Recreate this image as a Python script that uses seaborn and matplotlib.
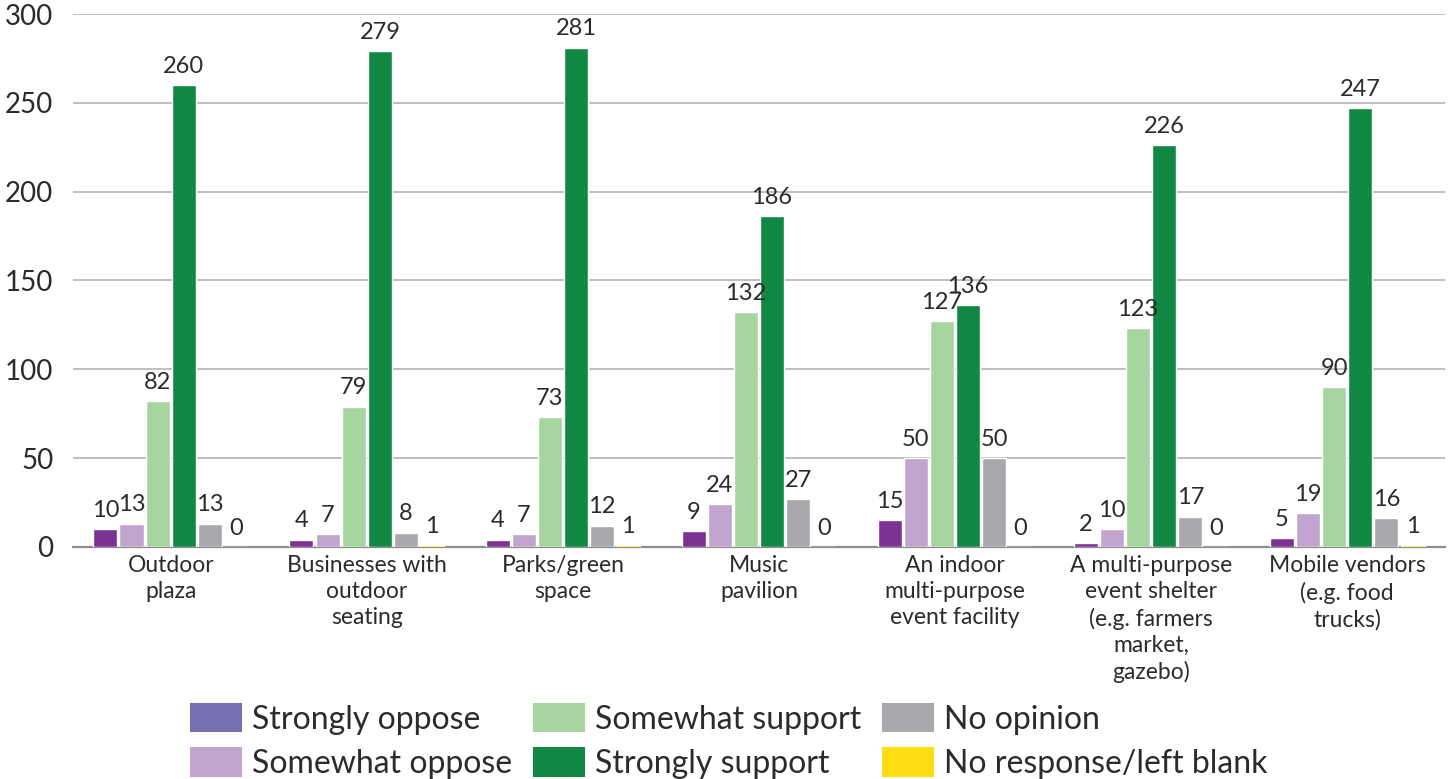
import matplotlib
matplotlib.use("Agg")
import matplotlib.pyplot as plt
from matplotlib.patches import Patch
import seaborn as sns
import pandas as pd

categories = [
    "Outdoor\nplaza",
    "Businesses with\noutdoor\nseating",
    "Parks/green\nspace",
    "Music\npavilion",
    "An indoor\nmulti-purpose\nevent facility",
    "A multi-purpose\nevent shelter\n(e.g. farmers\nmarket,\ngazebo)",
    "Mobile vendors\n(e.g. food\ntrucks)",
]
responses = [
    "Strongly oppose",
    "Somewhat oppose",
    "Somewhat support",
    "Strongly support",
    "No opinion",
    "No response/left blank",
]
strongly_oppose = [10, 4, 4, 9, 15, 2, 5]
somewhat_oppose = [13, 7, 7, 24, 50, 10, 19]
somewhat_support = [82, 79, 73, 132, 127, 123, 90]
strongly_support = [260, 279, 281, 186, 136, 226, 247]
no_opinion = [13, 8, 12, 27, 50, 17, 16]
no_response = [0, 1, 1, 0, 0, 0, 1]

series = [strongly_oppose, somewhat_oppose, somewhat_support,
          strongly_support, no_opinion, no_response]

bar_colors = ["#7B3294", "#C2A5CF", "#A6D5A0", "#108843", "#A7A9AC", "#FFDD15"]
legend_colors = ["#7670B1", "#C2A5CF", "#A6D5A0", "#108843", "#A7A9AC", "#FFDD15"]

rows = []
for resp, vals in zip(responses, series):
    for cat, v in zip(categories, vals):
        rows.append({"category": cat, "response": resp, "count": v})
df = pd.DataFrame(rows)

sns.set_theme(style="white")
plt.rcParams["font.family"] = ["Lato", "DejaVu Sans"]
text_color = "#2B2B2B"

fig = plt.figure(figsize=(14.54, 7.79), dpi=100)
ax = fig.add_axes([0.050, 0.298, 0.944, 0.684])

sns.barplot(
    data=df, x="category", y="count", hue="response",
    order=categories, hue_order=responses,
    palette=bar_colors, width=0.8, gap=0.08,
    saturation=1, legend=False, ax=ax,
)
for container in ax.containers:
    for bar in container:
        bar.set_zorder(3)
    ax.bar_label(container, fmt="%d", padding=6, fontsize=17, color=text_color)

ax.set_ylim(0, 300)
ax.set_yticks([0, 50, 100, 150, 200, 250, 300])
ax.set_xlim(-0.5, len(categories) - 0.5)
ax.yaxis.grid(True, color="#BFBFBF", linewidth=1.4)
ax.set_axisbelow(True)
for side in ["top", "right", "left"]:
    ax.spines[side].set_visible(False)
ax.spines["bottom"].set_color("#8C8C8C")
ax.spines["bottom"].set_linewidth(1.6)
ax.spines["bottom"].set_zorder(2)
ax.tick_params(axis="y", length=0, pad=14, labelsize=20, labelcolor=text_color)
ax.tick_params(axis="x", length=0, pad=6, labelsize=16.5, labelcolor=text_color)
for lbl in ax.get_xticklabels():
    lbl.set_linespacing(1.3)
ax.set_xlabel("")
ax.set_ylabel("")

handles = [Patch(facecolor=c, edgecolor="none") for c in legend_colors]
fig.legend(
    handles, responses, ncol=3, loc="upper left",
    bbox_to_anchor=(190 / 1454, 1 - 703 / 779), frameon=False,
    borderpad=0, borderaxespad=0,
    fontsize=23, labelcolor=text_color,
    handlelength=1.63, handleheight=1.03, handletextpad=0.31,
    columnspacing=0.65, labelspacing=0.4,
)

fig.savefig("out.png", dpi=100)
